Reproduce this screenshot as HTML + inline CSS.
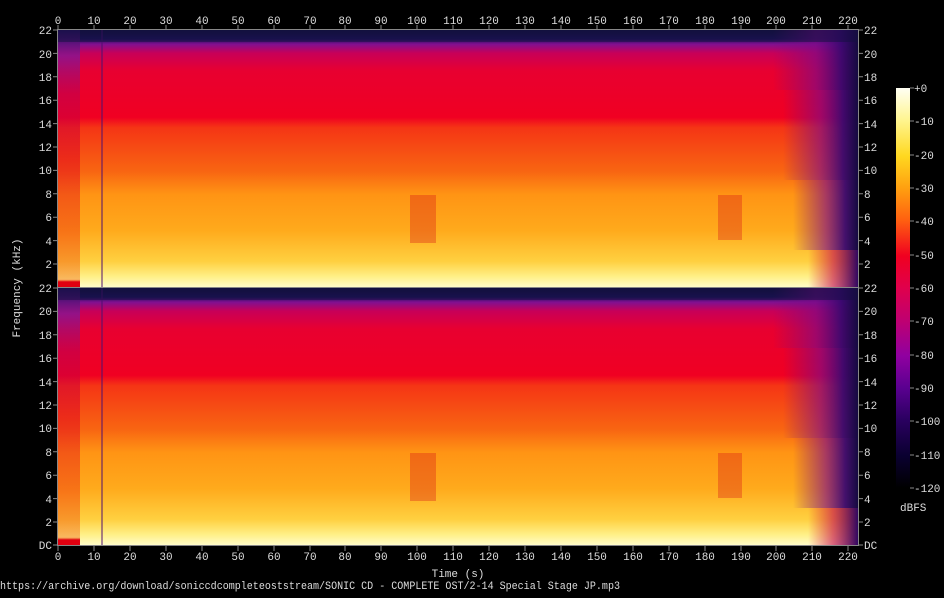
<!DOCTYPE html>
<html><head><style>
body{margin:0;background:#000;}
svg text{font-family:"Liberation Mono","DejaVu Sans Mono",monospace;font-size:11px;fill:#ddd;}
</style></head><body>
<svg width="944" height="593" viewBox="0 0 944 593" xmlns="http://www.w3.org/2000/svg">
<defs>
<linearGradient id="vg" x1="0" y1="0" x2="0" y2="1">
<stop offset="0" stop-color="#10103a"/>
<stop offset="0.035" stop-color="#1c1258"/>
<stop offset="0.055" stop-color="#801090"/>
<stop offset="0.09" stop-color="#c80058"/>
<stop offset="0.16" stop-color="#e80030"/>
<stop offset="0.34" stop-color="#f00022"/>
<stop offset="0.38" stop-color="#f53515"/>
<stop offset="0.55" stop-color="#f86512"/>
<stop offset="0.64" stop-color="#ff9414"/>
<stop offset="0.78" stop-color="#ffaa1c"/>
<stop offset="0.9" stop-color="#ffd040"/>
<stop offset="0.96" stop-color="#fff088"/>
<stop offset="1" stop-color="#fffcc8"/>
</linearGradient>
<linearGradient id="fade" x1="0" y1="0" x2="1" y2="0">
<stop offset="0" stop-color="#7a0a80" stop-opacity="0"/>
<stop offset="0.5" stop-color="#7a0a88" stop-opacity="0.65"/>
<stop offset="0.8" stop-color="#3a0870" stop-opacity="0.95"/>
<stop offset="1" stop-color="#150a40" stop-opacity="1"/>
</linearGradient>
<linearGradient id="fadeLow" x1="0" y1="0" x2="1" y2="0">
<stop offset="0" stop-color="#e00030" stop-opacity="0"/>
<stop offset="0.5" stop-color="#c00050" stop-opacity="0.6"/>
<stop offset="1" stop-color="#300860" stop-opacity="1"/>
</linearGradient>
<linearGradient id="leftg" x1="0" y1="0" x2="0" y2="1">
<stop offset="0" stop-color="#2a1060" stop-opacity="0.8"/>
<stop offset="0.1" stop-color="#8a1590" stop-opacity="0.85"/>
<stop offset="0.25" stop-color="#c00050" stop-opacity="0.6"/>
<stop offset="0.5" stop-color="#e00020" stop-opacity="0.5"/>
<stop offset="0.8" stop-color="#f04010" stop-opacity="0.5"/>
<stop offset="0.97" stop-color="#f06010" stop-opacity="0.4"/>
<stop offset="0.98" stop-color="#e00010" stop-opacity="1"/>
<stop offset="1" stop-color="#e00010" stop-opacity="1"/>
</linearGradient>
<linearGradient id="cb" x1="0" y1="0" x2="0" y2="1">
<stop offset="0" stop-color="#fffff4"/>
<stop offset="0.08" stop-color="#fff590"/>
<stop offset="0.17" stop-color="#ffd820"/>
<stop offset="0.25" stop-color="#ffa010"/>
<stop offset="0.33" stop-color="#ff6010"/>
<stop offset="0.42" stop-color="#f00020"/>
<stop offset="0.5" stop-color="#e0004c"/>
<stop offset="0.58" stop-color="#c00070"/>
<stop offset="0.67" stop-color="#9000a0"/>
<stop offset="0.75" stop-color="#5a0090"/>
<stop offset="0.83" stop-color="#2a0060"/>
<stop offset="0.92" stop-color="#0a0030"/>
<stop offset="1" stop-color="#000000"/>
</linearGradient>
<g id="panel">
<rect x="0" y="0" width="800" height="257" fill="url(#vg)"/>
<rect x="0" y="0" width="22" height="257" fill="url(#leftg)"/>
<rect x="43" y="0" width="2" height="257" fill="#501070" opacity="0.5"/>
<rect x="352" y="165" width="26" height="48" fill="#d81818" opacity="0.35"/>
<rect x="660" y="165" width="24" height="45" fill="#d81818" opacity="0.35"/>
<rect x="715" y="0" width="85" height="60" fill="url(#fade)"/>
<rect x="725" y="60" width="75" height="90" fill="url(#fade)"/>
<rect x="735" y="150" width="65" height="70" fill="url(#fade)"/>
<rect x="750" y="220" width="50" height="37" fill="url(#fadeLow)"/>
<rect x="0" y="0" width="800" height="12" fill="#141040" opacity="0.5"/>
</g>
</defs>
<use href="#panel" x="58" y="30"/>
<use href="#panel" x="58" y="288"/>
<g stroke="#888" stroke-width="1" fill="none">
<rect x="57.5" y="29.5" width="801" height="516"/>
<line x1="58" y1="287.5" x2="858" y2="287.5"/>
</g>
<g stroke="#888">
<line x1="58" y1="25" x2="58" y2="30"/><line x1="94" y1="25" x2="94" y2="30"/><line x1="130" y1="25" x2="130" y2="30"/><line x1="166" y1="25" x2="166" y2="30"/><line x1="202" y1="25" x2="202" y2="30"/><line x1="238" y1="25" x2="238" y2="30"/><line x1="274" y1="25" x2="274" y2="30"/><line x1="310" y1="25" x2="310" y2="30"/><line x1="345" y1="25" x2="345" y2="30"/><line x1="381" y1="25" x2="381" y2="30"/><line x1="417" y1="25" x2="417" y2="30"/><line x1="453" y1="25" x2="453" y2="30"/><line x1="489" y1="25" x2="489" y2="30"/><line x1="525" y1="25" x2="525" y2="30"/><line x1="561" y1="25" x2="561" y2="30"/><line x1="597" y1="25" x2="597" y2="30"/><line x1="633" y1="25" x2="633" y2="30"/><line x1="669" y1="25" x2="669" y2="30"/><line x1="705" y1="25" x2="705" y2="30"/><line x1="741" y1="25" x2="741" y2="30"/><line x1="776" y1="25" x2="776" y2="30"/><line x1="812" y1="25" x2="812" y2="30"/><line x1="848" y1="25" x2="848" y2="30"/>
<line x1="58" y1="546" x2="58" y2="551"/><line x1="94" y1="546" x2="94" y2="551"/><line x1="130" y1="546" x2="130" y2="551"/><line x1="166" y1="546" x2="166" y2="551"/><line x1="202" y1="546" x2="202" y2="551"/><line x1="238" y1="546" x2="238" y2="551"/><line x1="274" y1="546" x2="274" y2="551"/><line x1="310" y1="546" x2="310" y2="551"/><line x1="345" y1="546" x2="345" y2="551"/><line x1="381" y1="546" x2="381" y2="551"/><line x1="417" y1="546" x2="417" y2="551"/><line x1="453" y1="546" x2="453" y2="551"/><line x1="489" y1="546" x2="489" y2="551"/><line x1="525" y1="546" x2="525" y2="551"/><line x1="561" y1="546" x2="561" y2="551"/><line x1="597" y1="546" x2="597" y2="551"/><line x1="633" y1="546" x2="633" y2="551"/><line x1="669" y1="546" x2="669" y2="551"/><line x1="705" y1="546" x2="705" y2="551"/><line x1="741" y1="546" x2="741" y2="551"/><line x1="776" y1="546" x2="776" y2="551"/><line x1="812" y1="546" x2="812" y2="551"/><line x1="848" y1="546" x2="848" y2="551"/>
</g>
<g text-anchor="middle">
<text x="58" y="24">0</text><text x="94" y="24">10</text><text x="130" y="24">20</text><text x="166" y="24">30</text><text x="202" y="24">40</text><text x="238" y="24">50</text><text x="274" y="24">60</text><text x="310" y="24">70</text><text x="345" y="24">80</text><text x="381" y="24">90</text><text x="417" y="24">100</text><text x="453" y="24">110</text><text x="489" y="24">120</text><text x="525" y="24">130</text><text x="561" y="24">140</text><text x="597" y="24">150</text><text x="633" y="24">160</text><text x="669" y="24">170</text><text x="705" y="24">180</text><text x="741" y="24">190</text><text x="776" y="24">200</text><text x="812" y="24">210</text><text x="848" y="24">220</text>
<text x="58" y="560">0</text><text x="94" y="560">10</text><text x="130" y="560">20</text><text x="166" y="560">30</text><text x="202" y="560">40</text><text x="238" y="560">50</text><text x="274" y="560">60</text><text x="310" y="560">70</text><text x="345" y="560">80</text><text x="381" y="560">90</text><text x="417" y="560">100</text><text x="453" y="560">110</text><text x="489" y="560">120</text><text x="525" y="560">130</text><text x="561" y="560">140</text><text x="597" y="560">150</text><text x="633" y="560">160</text><text x="669" y="560">170</text><text x="705" y="560">180</text><text x="741" y="560">190</text><text x="776" y="560">200</text><text x="812" y="560">210</text><text x="848" y="560">220</text>
<text x="458" y="577">Time (s)</text>
</g>
<g stroke="#888">
<path d="M53 30h5M53 53.4h5M53 76.8h5M53 100.2h5M53 123.6h5M53 147h5M53 170.4h5M53 193.8h5M53 217.2h5M53 240.6h5M53 264h5M53 288h5M53 311.4h5M53 334.8h5M53 358.2h5M53 381.6h5M53 405h5M53 428.4h5M53 451.8h5M53 475.2h5M53 498.6h5M53 522h5M53 545h5"/>
<path d="M858 30h5M858 53.4h5M858 76.8h5M858 100.2h5M858 123.6h5M858 147h5M858 170.4h5M858 193.8h5M858 217.2h5M858 240.6h5M858 264h5M858 288h5M858 311.4h5M858 334.8h5M858 358.2h5M858 381.6h5M858 405h5M858 428.4h5M858 451.8h5M858 475.2h5M858 498.6h5M858 522h5M858 545h5"/>
</g>
<g text-anchor="end">
<text x="52" y="34">22</text><text x="52" y="58">20</text><text x="52" y="81">18</text><text x="52" y="104">16</text><text x="52" y="128">14</text><text x="52" y="151">12</text><text x="52" y="174">10</text><text x="52" y="198">8</text><text x="52" y="221">6</text><text x="52" y="245">4</text><text x="52" y="268">2</text>
<text x="52" y="292">22</text><text x="52" y="315">20</text><text x="52" y="339">18</text><text x="52" y="362">16</text><text x="52" y="386">14</text><text x="52" y="409">12</text><text x="52" y="432">10</text><text x="52" y="456">8</text><text x="52" y="479">6</text><text x="52" y="503">4</text><text x="52" y="526">2</text><text x="52" y="549">DC</text>
</g>
<g>
<text x="864" y="34">22</text><text x="864" y="58">20</text><text x="864" y="81">18</text><text x="864" y="104">16</text><text x="864" y="128">14</text><text x="864" y="151">12</text><text x="864" y="174">10</text><text x="864" y="198">8</text><text x="864" y="221">6</text><text x="864" y="245">4</text><text x="864" y="268">2</text>
<text x="864" y="292">22</text><text x="864" y="315">20</text><text x="864" y="339">18</text><text x="864" y="362">16</text><text x="864" y="386">14</text><text x="864" y="409">12</text><text x="864" y="432">10</text><text x="864" y="456">8</text><text x="864" y="479">6</text><text x="864" y="503">4</text><text x="864" y="526">2</text><text x="864" y="549">DC</text>
</g>
<text x="20" y="288" text-anchor="middle" transform="rotate(-90 20 288)">Frequency (kHz)</text>
<rect x="896" y="88" width="14" height="400" fill="url(#cb)"/>
<g stroke="#888"><path d="M910 88h4M910 121h4M910 155h4M910 188h4M910 221h4M910 255h4M910 288h4M910 321h4M910 355h4M910 388h4M910 421h4M910 455h4M910 488h4"/></g>
<g>
<text x="914" y="92">+0</text><text x="914" y="125">-10</text><text x="914" y="159">-20</text><text x="914" y="192">-30</text><text x="914" y="225">-40</text><text x="914" y="259">-50</text><text x="914" y="292">-60</text><text x="914" y="325">-70</text><text x="914" y="359">-80</text><text x="914" y="392">-90</text><text x="914" y="425">-100</text><text x="914" y="459">-110</text><text x="914" y="492">-120</text>
<text x="900" y="511">dBFS</text>
</g>
<text x="0" y="589" textLength="620" lengthAdjust="spacingAndGlyphs">https://archive.org/download/soniccdcompleteoststream/SONIC CD - COMPLETE OST/2-14 Special Stage JP.mp3</text>
</svg>
</body></html>
